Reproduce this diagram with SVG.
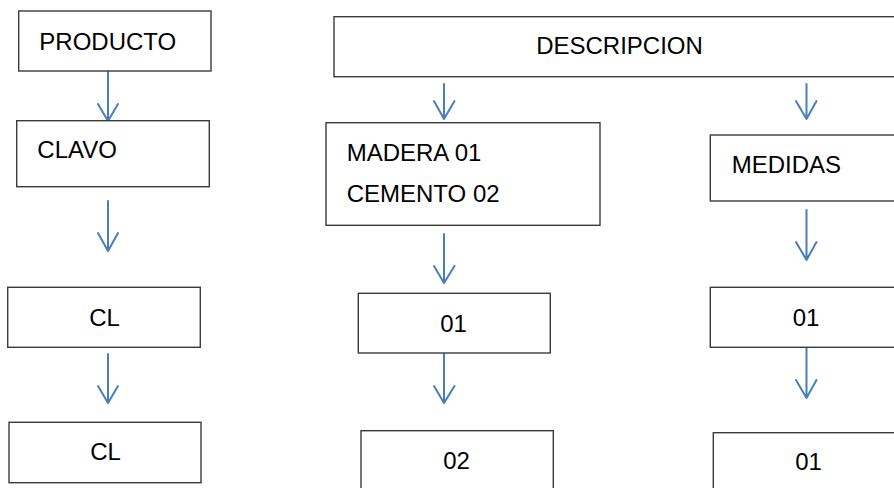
<svg xmlns="http://www.w3.org/2000/svg" width="894" height="488" viewBox="0 0 894 488">
<style>
.box{fill:#ffffff;stroke:#3a3a3a;stroke-width:1.4}
.t{font-family:"Liberation Sans",Arial,sans-serif;font-size:24px;fill:#000}
.m{text-anchor:middle}
.arr{fill:none;stroke:#4a7ebb;stroke-width:2;stroke-linecap:round;stroke-linejoin:round}
</style>
<rect width="894" height="488" fill="#ffffff"/>
<g id="connectors">
<path class="arr" d="M108 71V121M98 104L108 121L118 104"/>
<path class="arr" d="M108 201V251M98 233L108 251L118 233"/>
<path class="arr" d="M108 354V403M98 386L108 403L118 386"/>
<path class="arr" d="M444 84V119M434 101L444 119L454.5 101"/>
<path class="arr" d="M806.5 84V119M796 101L806.5 119L816.5 101"/>
<path class="arr" d="M444 234V283M434 266L444 283L454.5 266"/>
<path class="arr" d="M444 354V403M434 386L444 403L454.5 386"/>
<path class="arr" d="M806.5 210V260M796 242L806.5 260L816.5 242"/>
<path class="arr" d="M806.5 348V398M796 380L806.5 398L816.5 380"/>
</g>
<g id="producto"><rect class="box" x="18.7" y="11" width="192.3" height="60"/><text class="t" x="39.3" y="50">PRODUCTO</text></g>
<g id="clavo"><rect class="box" x="16.7" y="120.7" width="192.6" height="66"/><text class="t" x="37.3" y="158.3">CLAVO</text></g>
<g id="cl1"><rect class="box" x="7.7" y="287.3" width="192.6" height="60"/><text class="t m" x="104.5" y="326">CL</text></g>
<g id="cl2"><rect class="box" x="9" y="422.3" width="192" height="60.4"/><text class="t m" x="105.5" y="460">CL</text></g>
<g id="descripcion"><rect class="box" x="334" y="16.7" width="580" height="60"/><text class="t m" x="619.5" y="54.3">DESCRIPCION</text></g>
<g id="madera"><rect class="box" x="326" y="122.7" width="274" height="102.6"/><text class="t" x="346.7" y="161">MADERA 01</text><text class="t" x="346.7" y="201.7">CEMENTO 02</text></g>
<g id="medidas"><rect class="box" x="710.3" y="135" width="200" height="66"/><text class="t" x="731.7" y="172.7">MEDIDAS</text></g>
<g id="n01a"><rect class="box" x="358.3" y="293.3" width="192" height="59.7"/><text class="t m" x="453.5" y="331.7">01</text></g>
<g id="n02"><rect class="box" x="361" y="430.7" width="192.3" height="70"/><text class="t m" x="456.5" y="469">02</text></g>
<g id="n01b"><rect class="box" x="710.3" y="287.3" width="200" height="60"/><text class="t m" x="806" y="326">01</text></g>
<g id="n01c"><rect class="box" x="713.3" y="432.7" width="200" height="70"/><text class="t m" x="808.5" y="470">01</text></g>
</svg>
